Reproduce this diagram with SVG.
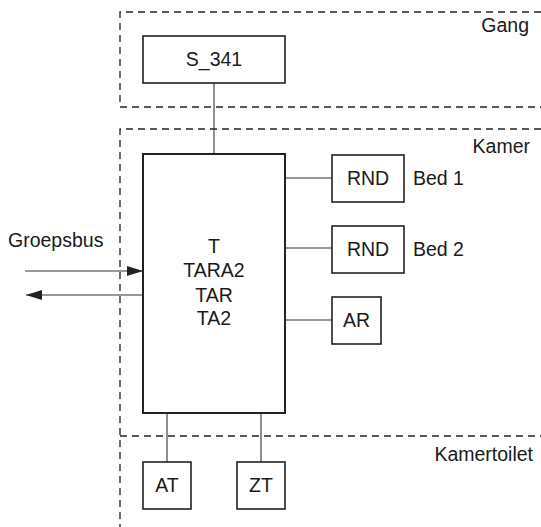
<svg xmlns="http://www.w3.org/2000/svg" width="541" height="527" viewBox="0 0 541 527">
<style>
.zone{fill:none;stroke:#222;stroke-width:1.3;stroke-dasharray:7 5}
.box{fill:#fff;stroke:#222;stroke-width:1.6}
.main{fill:#fff;stroke:#222;stroke-width:2}
.con{fill:none;stroke:#333;stroke-width:1.1}
text{font-family:"Liberation Sans",Arial,sans-serif;font-size:19.5px;fill:#1a1a1a}
.c{text-anchor:middle}
.r{text-anchor:end}
</style>
<defs>
<marker id="ah" viewBox="0 0 16 10" refX="16" refY="5" markerWidth="16" markerHeight="10" markerUnits="userSpaceOnUse" orient="auto">
<path d="M0,0 L16,5 L0,10 Z" fill="#222"/>
</marker>
</defs>
<rect width="541" height="527" fill="#fff"/>
<g id="zones">
<path class="zone" d="M541,12 H120 V107 H541"/>
<path class="zone" d="M541,129 H120 V527"/>
<path class="zone" d="M120,436 H541"/>
<text x="529" y="32" class="r">Gang</text>
<text x="530" y="153" class="r">Kamer</text>
<text x="533" y="461" class="r">Kamertoilet</text>
<text x="8" y="247">Groepsbus</text>
</g>
<g id="connectors">
<line class="con" x1="214" y1="83" x2="214" y2="154"/>
<line class="con" x1="285" y1="178" x2="332" y2="178"/>
<line class="con" x1="285" y1="248" x2="332" y2="248"/>
<line class="con" x1="285" y1="320" x2="332" y2="320"/>
<line class="con" x1="167" y1="413" x2="167" y2="462"/>
<line class="con" x1="261" y1="413" x2="261" y2="462"/>
<line class="con" x1="25" y1="271" x2="143" y2="271" marker-end="url(#ah)"/>
<line class="con" x1="143" y1="295" x2="26" y2="295" marker-end="url(#ah)"/>
</g>
<g id="S_341">
<rect class="box" x="143" y="36" width="142" height="47"/>
<text x="214" y="66" class="c">S_341</text>
</g>
<g id="main">
<rect class="main" x="143" y="154" width="142" height="259"/>
<text x="214" y="253" class="c">T</text>
<text x="214" y="277" class="c">TARA2</text>
<text x="214" y="302" class="c">TAR</text>
<text x="214" y="325" class="c">TA2</text>
</g>
<g id="RND1">
<rect class="box" x="332" y="155" width="72" height="47"/>
<text x="368" y="185" class="c">RND</text>
<text x="413" y="185">Bed 1</text>
</g>
<g id="RND2">
<rect class="box" x="332" y="226" width="72" height="47"/>
<text x="368" y="256" class="c">RND</text>
<text x="413" y="256">Bed 2</text>
</g>
<g id="AR">
<rect class="box" x="332" y="297" width="49" height="47"/>
<text x="356.5" y="327" class="c">AR</text>
</g>
<g id="AT">
<rect class="box" x="143" y="462" width="48" height="47"/>
<text x="167" y="492" class="c">AT</text>
</g>
<g id="ZT">
<rect class="box" x="237" y="462" width="48" height="47"/>
<text x="261" y="492" class="c">ZT</text>
</g>
</svg>
